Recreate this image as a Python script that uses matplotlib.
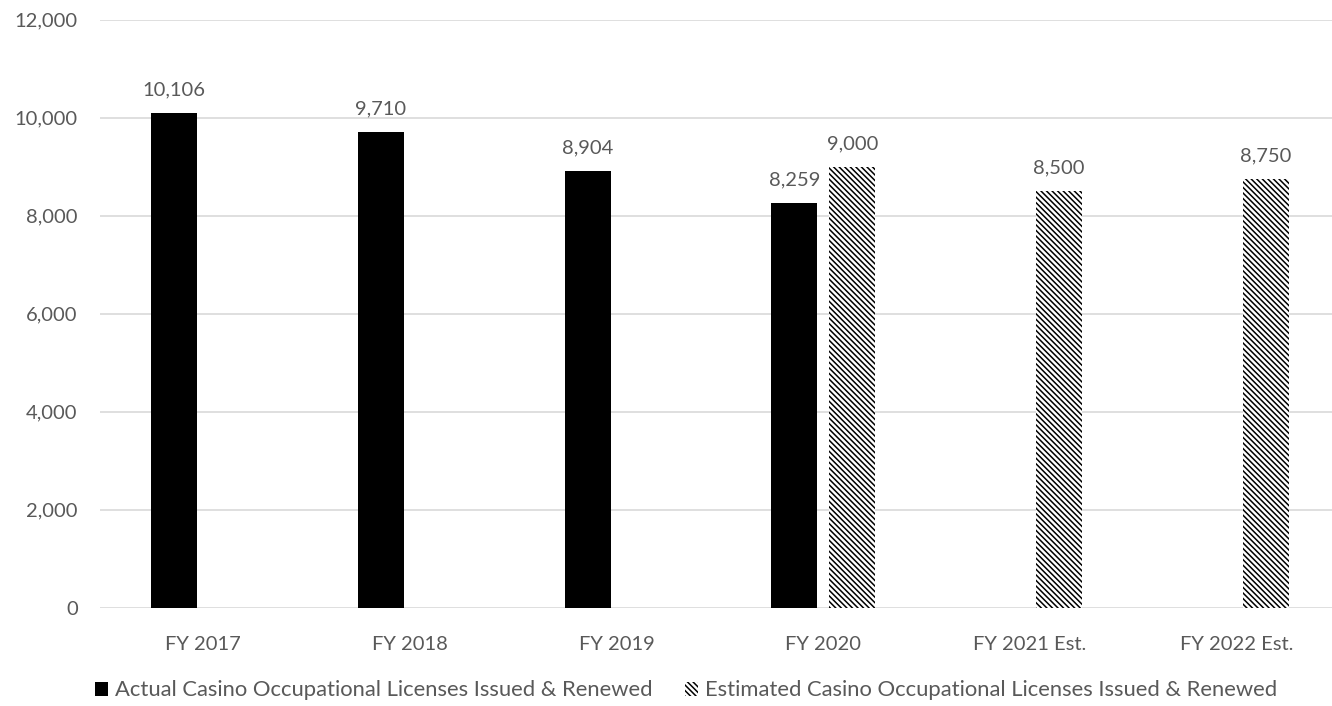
import numpy as np
import matplotlib
matplotlib.use('Agg')
import matplotlib.pyplot as plt
from matplotlib.patches import Patch

plt.rcParams['font.family'] = ['Lato', 'DejaVu Sans']
plt.rcParams['hatch.linewidth'] = 1.1

categories = ['FY 2017', 'FY 2018', 'FY 2019', 'FY 2020', 'FY 2021 Est.', 'FY 2022 Est.']
actual = [10106, 9710, 8904, 8259, None, None]
estimated = [None, None, None, 9000, 8500, 8750]
yticks = [0, 2000, 4000, 6000, 8000, 10000, 12000]

label_actual = 'Actual Casino Occupational Licenses Issued & Renewed'
label_est = 'Estimated Casino Occupational Licenses Issued & Renewed'

txtcol = '#595959'
gridcol = '#d9d9d9'
fs = 14.5
barw = 0.223
off = 0.14
hatch = '\\' * 6

fig = plt.figure(figsize=(13.32, 7.06), dpi=100)
ax = fig.add_axes([0.075, 0.139, 0.931, 0.833])

x = np.arange(len(categories))
for i in x:
    if actual[i] is not None:
        # single-series categories still keep the grouped offset
        ax.bar(i - off, actual[i], width=barw, color='black', linewidth=0, zorder=3)
        ax.text(i - off, actual[i] + 300, '{:,}'.format(actual[i]), ha='center', va='bottom',
                fontsize=fs, color=txtcol)
    if estimated[i] is not None:
        ax.bar(i + off, estimated[i], width=barw, color='white', edgecolor='black',
               hatch=hatch, linewidth=0, zorder=3)
        ax.text(i + off, estimated[i] + 300, '{:,}'.format(estimated[i]), ha='center', va='bottom',
                fontsize=fs, color=txtcol)

ax.set_xlim(-0.5, len(categories) - 0.5)
ax.set_ylim(0, 12000)
ax.set_yticks(yticks)
ax.set_yticklabels(['{:,}'.format(t) for t in yticks])
ax.set_xticks(x)
ax.set_xticklabels(categories)
ax.tick_params(axis='x', length=0, labelsize=fs, labelcolor=txtcol, pad=20)
ax.tick_params(axis='y', length=0, labelsize=fs, labelcolor=txtcol, pad=16)
ax.grid(axis='y', color=gridcol, linewidth=1.2, zorder=0)
for s in ax.spines.values():
    s.set_visible(False)

handles = [Patch(facecolor='black', edgecolor='black', linewidth=0, label=label_actual),
           Patch(facecolor='white', edgecolor='black', hatch=hatch, linewidth=0, label=label_est)]
fig.legend(handles=handles, loc='center', bbox_to_anchor=(0.515, 0.022), ncol=2, frameon=False,
           fontsize=15.8, labelcolor=txtcol, handlelength=0.6, handleheight=0.6,
           handletextpad=0.3, columnspacing=1.5)

plt.savefig('out.png', dpi=100)
